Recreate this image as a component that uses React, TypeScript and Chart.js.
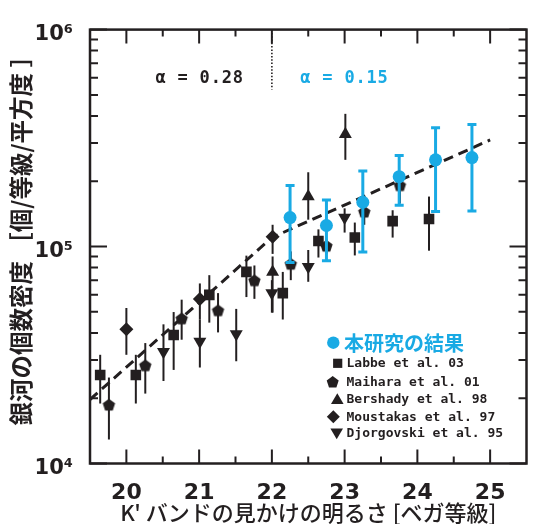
import React, { useEffect, useRef } from 'react';
import { Chart, registerables } from 'chart.js';

Chart.register(...registerables);

// ---------------- data ----------------
const xTickValues = [20, 21, 22, 23, 24, 25];
const xMinorTicks = [20.5, 21.5, 22.5, 23.5, 24.5];
const yTickValues = [1e4, 1e5, 1e6];
const yMinorTicks = [2e4, 3e4, 4e4, 5e4, 6e4, 7e4, 8e4, 9e4, 2e5, 3e5, 4e5, 5e5, 6e5, 7e5, 8e5, 9e5];

// this study
const studyMag = [22.25, 22.75, 23.25, 23.75, 24.25, 24.75];
const studyN = [1.36e5, 1.25e5, 1.6e5, 2.1e5, 2.51e5, 2.57e5];
const studyHi = [1.91e5, 1.64e5, 2.23e5, 2.63e5, 3.53e5, 3.65e5];
const studyLo = [8.45e4, 8.6e4, 9.45e4, 1.55e5, 1.45e5, 1.46e5];

const labbeMag = [19.64, 20.13, 20.65, 21.14, 21.65, 22.15, 22.64, 23.14, 23.66, 24.16];
const labbeN = [2.56e4, 2.56e4, 3.91e4, 5.99e4, 7.64e4, 6.1e4, 1.06e5, 1.1e5, 1.31e5, 1.34e5];
const labbeHi = [3.17e4, 3.17e4, 4.99e4, 7.38e4, 9.08e4, 7.64e4, 1.2e5, 1.29e5, 1.47e5, 1.7e5];
const labbeLo = [1.89e4, 1.89e4, 2.7e4, 4.46e4, 5.85e4, 4.61e4, 8.9e4, 9.1e4, 1.1e5, 9.57e4];

const maiharaMag = [19.76, 20.26, 20.76, 21.26, 21.76, 22.26, 22.75, 23.27, 23.76];
const maiharaN = [1.87e4, 2.84e4, 4.67e4, 5.09e4, 7.0e4, 8.34e4, 1.01e5, 1.45e5, 1.92e5];
const maiharaHi = [2.49e4, 3.59e4, 5.69e4, 6.1e4, 8.18e4, 9.5e4, 1.08e5, 1.56e5, 2.06e5];
const maiharaLo = [1.29e4, 2.1e4, 3.72e4, 4.02e4, 5.74e4, 7.0e4, 9.25e4, 1.26e5, 1.58e5];

const bershadyMag = [22.01, 22.5, 23.01];
const bershadyN = [7.64e4, 1.7e5, 3.29e5];
const bershadyHi = [9.0e4, 2.2e5, 4.09e5];
const bershadyLo = [4.96e4, 1.33e5, 2.51e5];

const moustakasMag = [20.0, 21.01, 22.01];
const moustakasN = [4.16e4, 5.73e4, 1.11e5];
const moustakasHi = [5.21e4, 6.76e4, 1.26e5];
const moustakasLo = [3.17e4, 4.6e4, 9.25e4];

const djorgovskiMag = [20.51, 21.01, 21.51, 22.0, 22.5, 23.0];
const djorgovskiN = [3.27e4, 3.65e4, 3.95e4, 6.1e4, 8.06e4, 1.36e5];
const djorgovskiHi = [4.38e4, 4.6e4, 5.16e4, 7.0e4, 9.64e4, 1.5e5];
const djorgovskiLo = [2.4e4, 2.77e4, 2.96e4, 4.96e4, 6.88e4, 1.16e5];

// broken power-law fit (dashed)
const fitMag = [19.5, 22, 25];
const fitN = [1.97e4, 1.1e5, 3.1e5];

const seriesLabels = ['本研究の結果', 'Labbe et al. 03', 'Maihara et al. 01', 'Bershady et al. 98', 'Moustakas et al. 97', 'Djorgovski et al. 95'];
const slopeLabels = ['α = 0.28', 'α = 0.15'];
const xTitle = "K' バンドの見かけの明るさ [ベガ等級]";
const yTitle = '　銀河の個数密度 ［個/等級/平方度 ］';

// ---------------- styles ----------------
const CYAN = '#19aae4';
const BLACK = '#231f20';
const W = 534;
const H = 540;
const AXIS_BOTTOM = 463.5;

const SUP: Record<string, string> = { '0': '⁰', '1': '¹', '2': '²', '3': '³', '4': '⁴', '5': '⁵', '6': '⁶', '7': '⁷', '8': '⁸', '9': '⁹' };
const powLabel = (v: number) => '10' + String(Math.round(Math.log10(v))).split('').map((c) => SUP[c]).join('');

function pentagonPath(ctx: CanvasRenderingContext2D, cx: number, cy: number, r: number) {
  ctx.beginPath();
  for (let k = 0; k < 5; k++) {
    const a = -Math.PI / 2 + (k * 2 * Math.PI) / 5;
    const px = cx + r * Math.cos(a);
    const py = cy + r * Math.sin(a);
    if (k === 0) ctx.moveTo(px, py);
    else ctx.lineTo(px, py);
  }
  ctx.closePath();
}

function makePentagon(r: number, color: string): HTMLCanvasElement {
  const c = document.createElement('canvas');
  const s = Math.ceil(r * 2 + 2);
  c.width = s;
  c.height = s;
  const g = c.getContext('2d')!;
  g.fillStyle = color;
  pentagonPath(g, s / 2, s / 2 + r * 0.1, r);
  g.fill();
  return c;
}

function drawShape(ctx: CanvasRenderingContext2D, shape: string, x: number, y: number, r: number) {
  ctx.beginPath();
  if (shape === 'circle') {
    ctx.arc(x, y, r, 0, Math.PI * 2);
  } else if (shape === 'rect') {
    ctx.rect(x - r, y - r, 2 * r, 2 * r);
  } else if (shape === 'triangle') {
    ctx.moveTo(x, y - r);
    ctx.lineTo(x + r * 1.05, y + r * 0.8);
    ctx.lineTo(x - r * 1.05, y + r * 0.8);
    ctx.closePath();
  } else if (shape === 'triangleDown') {
    ctx.moveTo(x, y + r);
    ctx.lineTo(x + r * 1.05, y - r * 0.8);
    ctx.lineTo(x - r * 1.05, y - r * 0.8);
    ctx.closePath();
  } else if (shape === 'diamond') {
    ctx.moveTo(x, y - r);
    ctx.lineTo(x + r, y);
    ctx.lineTo(x, y + r);
    ctx.lineTo(x - r, y);
    ctx.closePath();
  } else if (shape === 'pentagon') {
    pentagonPath(ctx, x, y + r * 0.1, r);
  }
  ctx.fill();
}

const errorBarPlugin = {
  id: 'errorBars',
  beforeDatasetDraw(chart: any, args: any) {
    const ds = chart.data.datasets[args.index];
    const eb = ds.errorBars;
    if (!eb) return;
    const { ctx } = chart;
    const x = chart.scales.x;
    const y = chart.scales.y;
    ctx.save();
    ctx.strokeStyle = eb.color;
    ctx.lineWidth = eb.width;
    ctx.lineCap = 'butt';
    ds.data.forEach((pt: any, i: number) => {
      const px = x.getPixelForValue(pt.x);
      const yl = y.getPixelForValue(eb.lo[i]);
      const yh = y.getPixelForValue(eb.hi[i]);
      ctx.beginPath();
      ctx.moveTo(px, yl);
      ctx.lineTo(px, yh);
      ctx.stroke();
      if (eb.cap) {
        ctx.beginPath();
        ctx.moveTo(px - eb.cap / 2, yl);
        ctx.lineTo(px + eb.cap / 2, yl);
        ctx.moveTo(px - eb.cap / 2, yh);
        ctx.lineTo(px + eb.cap / 2, yh);
        ctx.stroke();
      }
    });
    ctx.restore();
  },
};

const framePlugin = {
  id: 'frame',
  afterDraw(chart: any) {
    const { ctx, chartArea: a } = chart;
    const x = chart.scales.x;
    const y = chart.scales.y;
    ctx.save();
    ctx.strokeStyle = BLACK;
    ctx.lineWidth = 2;
    ctx.beginPath();
    const tick = (x1: number, y1: number, x2: number, y2: number) => {
      ctx.moveTo(x1, y1);
      ctx.lineTo(x2, y2);
    };
    xTickValues.forEach((v) => {
      const px = x.getPixelForValue(v);
      tick(px, a.bottom, px, a.bottom - 14);
      tick(px, a.top, px, a.top + 14);
    });
    xMinorTicks.forEach((v) => {
      const px = x.getPixelForValue(v);
      tick(px, a.bottom, px, a.bottom - 7);
      tick(px, a.top, px, a.top + 7);
    });
    yTickValues.forEach((v) => {
      const py = y.getPixelForValue(v);
      tick(a.left, py, a.left + 17, py);
      tick(a.right, py, a.right - 17, py);
    });
    yMinorTicks.forEach((v) => {
      const py = y.getPixelForValue(v);
      tick(a.left, py, a.left + 8, py);
      tick(a.right, py, a.right - 8, py);
    });
    ctx.stroke();
    ctx.lineWidth = 2.5;
    ctx.strokeRect(a.left, a.top, a.right - a.left, a.bottom - a.top);
    ctx.restore();
  },
};

const annotationPlugin = {
  id: 'annotations',
  afterDatasetsDraw(chart: any) {
    const { ctx, chartArea: a } = chart;
    const x = chart.scales.x;
    const y = chart.scales.y;
    ctx.save();
    // dotted break line at the knee
    const kx = x.getPixelForValue(fitMag[1]);
    ctx.strokeStyle = BLACK;
    ctx.lineWidth = 1.6;
    ctx.setLineDash([1.5, 1.8]);
    ctx.beginPath();
    ctx.moveTo(kx, a.top);
    ctx.lineTo(kx, y.getPixelForValue(5.3e5));
    ctx.stroke();
    ctx.setLineDash([]);
    // slope labels
    ctx.font = 'bold 17px "DejaVu Sans Mono"';
    (ctx as any).letterSpacing = '0.8px';
    ctx.textBaseline = 'middle';
    ctx.textAlign = 'left';
    const ty = y.getPixelForValue(5.93e5);
    ctx.fillStyle = BLACK;
    ctx.fillText(slopeLabels[0], x.getPixelForValue(20.4), ty);
    ctx.fillStyle = CYAN;
    ctx.fillText(slopeLabels[1], x.getPixelForValue(22.39), ty);
    ctx.restore();
  },
};

const legendShapes = ['circle', 'rect', 'pentagon', 'triangle', 'diamond', 'triangleDown'];
const legendPlugin = {
  id: 'customLegend',
  afterDraw(chart: any) {
    const { ctx } = chart;
    ctx.save();
    const rowsY = [342.7, 363.3, 381.7, 399.3, 416.7, 433.3];
    const markX = [333.3, 337.7, 332.7, 337.3, 333.3, 336.7];
    const markR = [6.2, 4.6, 6.3, 6.0, 6.5, 6.0];
    seriesLabels.forEach((lab, i) => {
      const color = i === 0 ? CYAN : BLACK;
      ctx.fillStyle = color;
      drawShape(ctx, legendShapes[i], markX[i], rowsY[i], markR[i]);
      ctx.textBaseline = 'middle';
      ctx.textAlign = 'left';
      if (i === 0) {
        ctx.font = 'bold 20px "Noto Sans CJK JP"';
        ctx.fillText(lab, 344, rowsY[i] + 1);
      } else {
        ctx.font = 'bold 13px "DejaVu Sans Mono"';
        ctx.fillText(lab, 346.5, rowsY[i] + 0.5);
      }
    });
    ctx.restore();
  },
};

function toPts(xs: number[], ys: number[]) {
  return xs.map((v, i) => ({ x: v, y: ys[i] }));
}

export default function App() {
  const ref = useRef<HTMLCanvasElement>(null);
  useEffect(() => {
    const pent = makePentagon(6.5, BLACK);
    const blackBars = (lo: number[], hi: number[]) => ({ lo, hi, color: BLACK, width: 2, cap: 0 });
    const base = { showLine: false, borderWidth: 0, backgroundColor: BLACK, borderColor: BLACK };
    const datasets: any[] = [
      {
        ...base,
        label: seriesLabels[0],
        data: toPts(studyMag, studyN),
        pointStyle: 'circle',
        pointRadius: 6.5,
        backgroundColor: CYAN,
        borderColor: CYAN,
        errorBars: { lo: studyLo, hi: studyHi, color: CYAN, width: 3, cap: 9 },
      },
      { ...base, label: seriesLabels[1], data: toPts(labbeMag, labbeN), pointStyle: 'rect', pointRadius: 7.5, errorBars: blackBars(labbeLo, labbeHi) },
      { ...base, label: seriesLabels[2], data: toPts(maiharaMag, maiharaN), pointStyle: pent, pointRadius: 6.5, errorBars: blackBars(maiharaLo, maiharaHi) },
      { ...base, label: seriesLabels[3], data: toPts(bershadyMag, bershadyN), pointStyle: 'triangle', pointRadius: 7.5, errorBars: blackBars(bershadyLo, bershadyHi) },
      { ...base, label: seriesLabels[4], data: toPts(moustakasMag, moustakasN), pointStyle: 'rectRot', pointRadius: 7, errorBars: blackBars(moustakasLo, moustakasHi) },
      { ...base, label: seriesLabels[5], data: toPts(djorgovskiMag, djorgovskiN), pointStyle: 'triangle', rotation: 180, pointRadius: 7.5, errorBars: blackBars(djorgovskiLo, djorgovskiHi) },
      {
        label: 'fit',
        data: toPts(fitMag, fitN),
        showLine: true,
        borderColor: BLACK,
        borderWidth: 3,
        borderDash: [10, 6],
        pointRadius: 0,
        fill: false,
      },
    ];

    const chart = new Chart(ref.current!, {
      type: 'scatter',
      data: { datasets },
      options: {
        animation: false,
        responsive: false,
        maintainAspectRatio: false,
        events: [],
        layout: { padding: { top: 21.5, right: 2, left: 0, bottom: 0 } },
        plugins: { legend: { display: false }, tooltip: { enabled: false } },
        scales: {
          x: {
            type: 'linear',
            min: 19.5,
            max: 25.5,
            afterBuildTicks: (s: any) => {
              s.ticks = xTickValues.map((v) => ({ value: v }));
            },
            afterFit: (s: any) => {
              s.height = H - AXIS_BOTTOM;
            },
            grid: { display: false, drawTicks: false },
            border: { display: false },
            ticks: {
              font: { family: '"DejaVu Sans"', size: 22, weight: 'bold' },
              color: BLACK,
              padding: 17,
              maxRotation: 0,
              autoSkip: false,
              callback: (v: any) => String(v),
            },
            title: {
              display: true,
              text: xTitle,
              color: BLACK,
              font: { family: '"Noto Sans CJK JP"', size: 22, weight: 500 },
              padding: { top: 0, bottom: 14 },
            },
          },
          y: {
            type: 'logarithmic',
            min: 1e4,
            max: 1e6,
            afterBuildTicks: (s: any) => {
              s.ticks = yTickValues.map((v) => ({ value: v, major: true }));
            },
            afterFit: (s: any) => {
              s.width = 90;
            },
            grid: { display: false, drawTicks: false },
            border: { display: false },
            ticks: {
              font: { family: '"DejaVu Sans"', size: 21, weight: 'bold' },
              color: BLACK,
              padding: 17,
              labelOffset: 5,
              autoSkip: false,
              callback: (v: any) => powLabel(Number(v)),
            },
            title: {
              display: true,
              text: yTitle,
              color: BLACK,
              font: { family: '"Noto Sans CJK JP"', size: 23.5, weight: 'bold' },
              padding: { top: 7.4, bottom: 0 },
            },
          },
        },
      } as any,
      plugins: [errorBarPlugin, annotationPlugin, framePlugin, legendPlugin],
    });
    return () => chart.destroy();
  }, []);

  return (
    <div style={{ position: 'fixed', left: 0, top: 0, width: W, height: H, background: '#fff' }}>
      <canvas ref={ref} width={W} height={H} style={{ width: W, height: H, display: 'block' }} />
    </div>
  );
}
